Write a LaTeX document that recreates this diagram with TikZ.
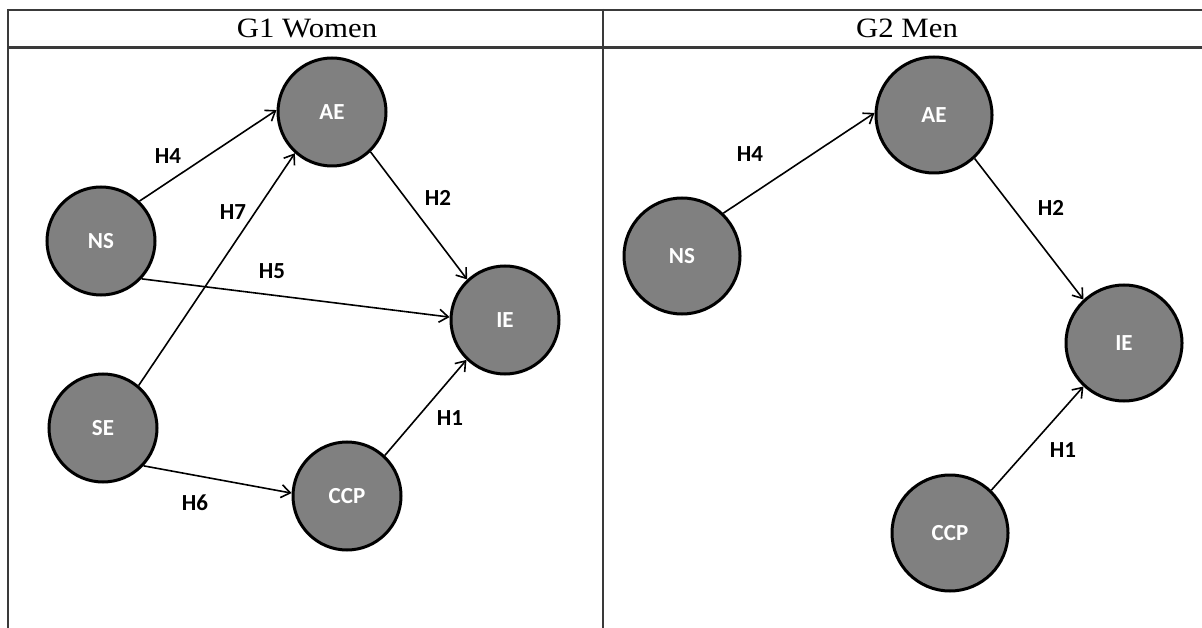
\documentclass[tikz,border=0pt]{standalone}
\usepackage{fontspec}
\setmainfont{Liberation Serif}
\newfontfamily\calibri{Carlito}
\usetikzlibrary{arrows.meta}
\definecolor{nodegray}{HTML}{808080}
\definecolor{rulegray}{HTML}{3A3A3A}
\begin{document}
\begin{tikzpicture}[x=1pt,y=-1pt,
  var/.style={circle, draw=black, line width=3pt, fill=nodegray, text=white,
    font=\calibri\bfseries\fontsize{23}{28}\selectfont, inner sep=0pt},
  varL/.style={var, minimum size=108pt},
  varR/.style={var, minimum size=116pt},
  link/.style={draw=black, line width=1.6pt, -{Straight Barb[length=9pt,width=13pt]}},
  lbl/.style={font=\calibri\bfseries\fontsize{23}{28}\selectfont, inner sep=0pt, text=black},
  hdr/.style={font=\fontsize{28}{32}\selectfont, inner sep=0pt, xscale=1.1},
  rule/.style={draw=rulegray, line width=2.2pt}
]
\useasboundingbox (0,0) rectangle (1202,628);
% table
\draw[rule] (8,10) -- (1202,10);
\draw[rule] (8,47.5) -- (1202,47.5);
\draw[rule] (8,8.9) -- (8,628);
\draw[rule] (603,8.9) -- (603,628);
\node[hdr] (t1) at (307,28) {G1 Women};
\node[hdr] (t2) at (907,28) {G2 Men};
% left panel
\node[varL] (aeL) at (332,112) {AE};
\node[varL] (nsL) at (101,241) {NS};
\node[varL] (ieL) at (505,320) {IE};
\node[varL] (seL) at (103,428) {SE};
\node[varL] (ccpL) at (347,496) {CCP};
\draw[link] (nsL.46) -- (aeL.178) node[lbl, at={(168,156)}] {H4};
\draw[link] (seL.50) -- (aeL.228) node[lbl, at={(233,212)}] {H7};
\draw[link] (aeL.-46) -- (ieL.133) node[lbl, at={(438,198)}] {H2};
\draw[link] (nsL.-43) -- (ieL.177) node[lbl, at={(272,271)}] {H5};
\draw[link] (ccpL.47) -- (ieL.226) node[lbl, at={(450,418)}] {H1};
\draw[link] (seL.-43) -- (ccpL.177) node[lbl, at={(195,503)}] {H6};
% right panel
\node[varR] (aeR) at (934,115) {AE};
\node[varR] (nsR) at (682,256) {NS};
\node[varR] (ieR) at (1124,343) {IE};
\node[varR] (ccpR) at (950,533) {CCP};
\draw[link] (nsR.46) -- (aeR.178) node[lbl, at={(750,154)}] {H4};
\draw[link] (aeR.-47) -- (ieR.133) node[lbl, at={(1051,208)}] {H2};
\draw[link] (ccpR.46) -- (ieR.227) node[lbl, at={(1063,450)}] {H1};
\end{tikzpicture}
\end{document}
